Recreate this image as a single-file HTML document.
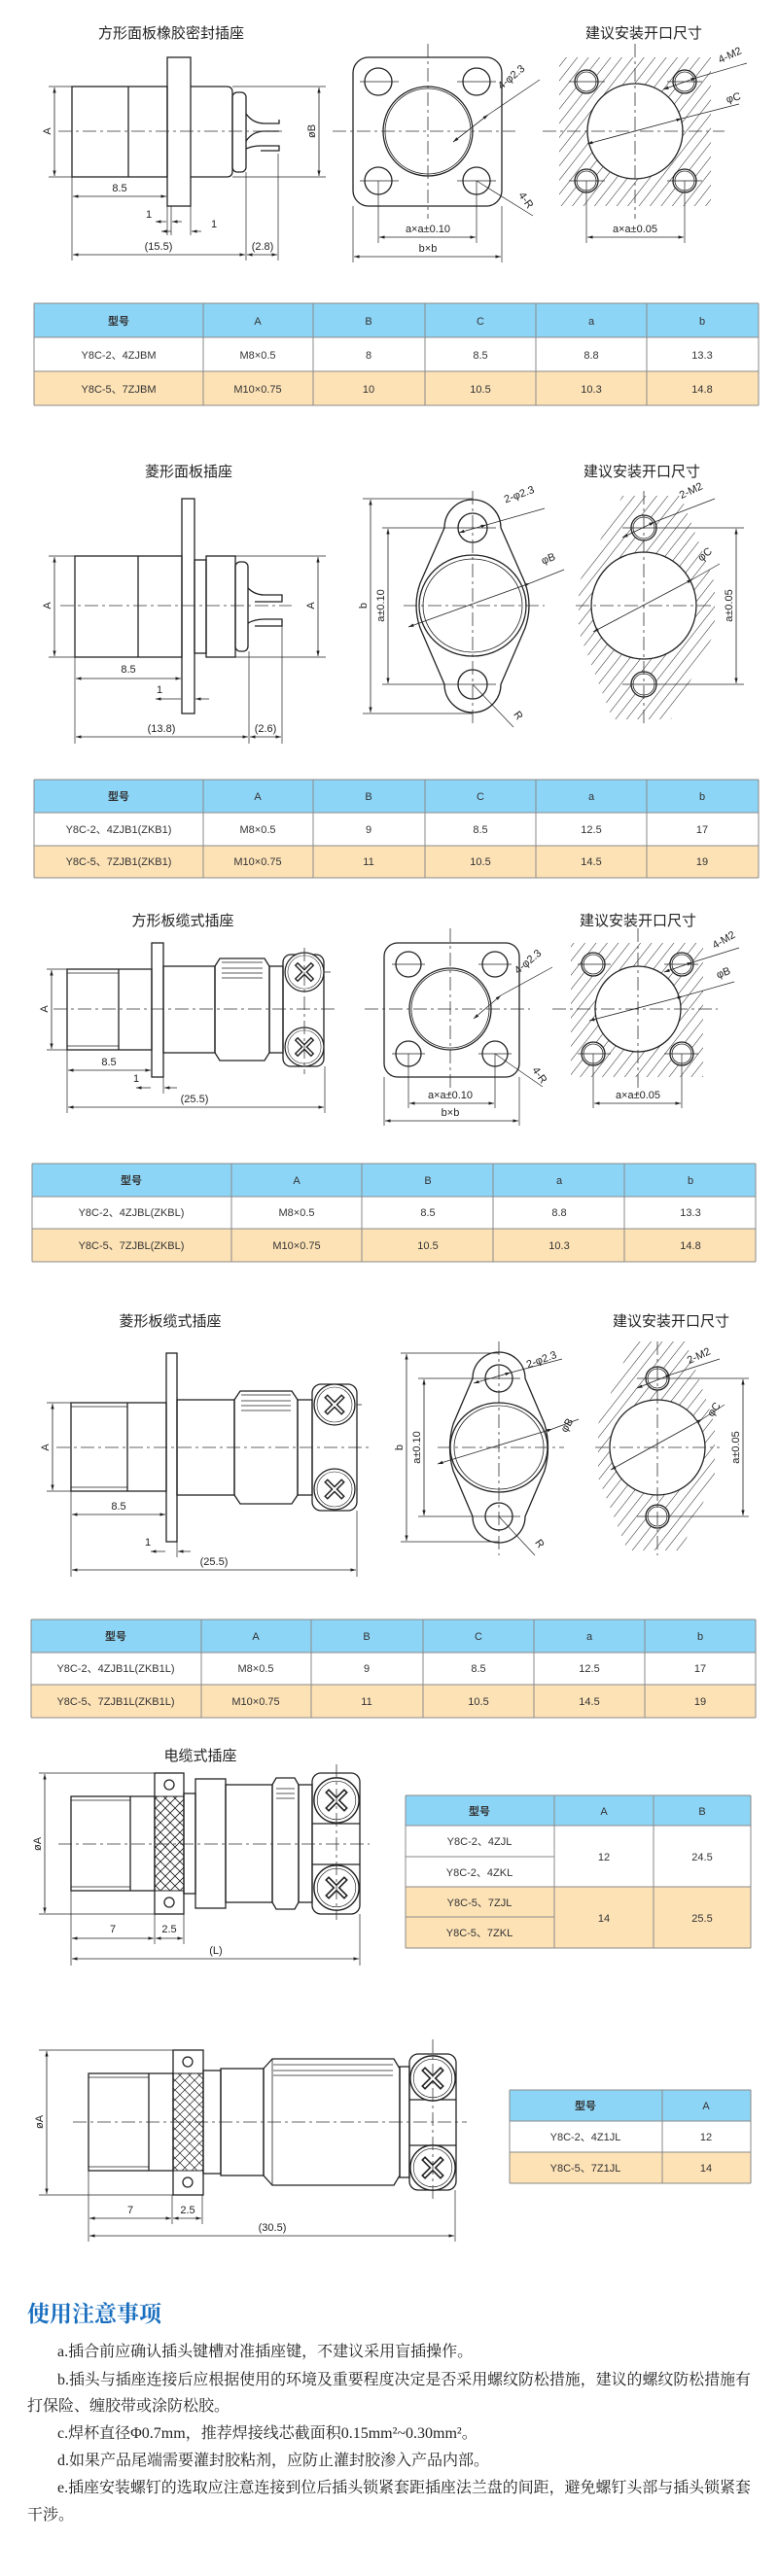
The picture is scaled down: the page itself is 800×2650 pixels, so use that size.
<!DOCTYPE html>
<html><head><meta charset="utf-8">
<style>
html,body{margin:0;padding:0;background:#fff;}
svg{display:block;}
.t{font-family:"Liberation Sans","Noto Sans CJK SC",sans-serif;font-size:15px;fill:#222;text-anchor:middle;}
.d{font-family:"Liberation Sans Narrow","Liberation Sans",sans-serif;font-size:11px;fill:#222;text-anchor:middle;}
.tb{font-family:"Liberation Sans Narrow","Liberation Sans","Noto Sans CJK SC",sans-serif;font-size:11px;fill:#333;text-anchor:middle;}
.n{font-family:"Liberation Serif","Noto Serif CJK SC",serif;font-size:16px;fill:#222;}
.s{fill:none;stroke:#222;stroke-width:1.3;}
.th{fill:none;stroke:#222;stroke-width:0.8;}
.c{fill:none;stroke:#333;stroke-width:0.8;stroke-dasharray:14 4 3 4;}
.dm{fill:none;stroke:#222;stroke-width:0.8;marker-start:url(#ar);marker-end:url(#ar);}
.e{fill:none;stroke:#222;stroke-width:0.7;}
.hd{fill:#8dd5f7;} .pe{fill:#fde2b6;} .wh{fill:#fff;}
.gl{stroke:#8a8a8a;stroke-width:1;fill:none;}
</style></head><body>
<svg width="800" height="2650" viewBox="0 0 800 2650" xmlns="http://www.w3.org/2000/svg">
<defs>
<marker id="ar" viewBox="0 0 10 10" refX="10" refY="5" markerWidth="7" markerHeight="7" orient="auto-start-reverse"><path d="M0,2 L10,5 L0,8 Z" fill="#222"/></marker>
<pattern id="h" patternUnits="userSpaceOnUse" width="9" height="9" patternTransform="rotate(38)"><line x1="0" y1="0" x2="0" y2="9" stroke="#222" stroke-width="1"/></pattern>
<g id="scr"><circle r="21" fill="#fff" stroke="#222" stroke-width="1.3"/><circle r="18" fill="none" stroke="#222" stroke-width="0.6"/><path d="M-9,-9 L9,9 M-9,9 L9,-9" stroke="#222" stroke-width="5"/><path d="M-8,-8 L8,8 M-8,8 L8,-8" stroke="#fff" stroke-width="2"/></g>
</defs>

<!-- ============ SECTION 1 ============ -->
<text class="t" x="176" y="39">方形面板橡胶密封插座</text>
<text class="t" x="662" y="39">建议安装开口尺寸</text>
<rect class="s" x="74" y="89" width="98" height="93"/>
<line class="s" x1="132" y1="89" x2="132" y2="182"/>
<rect class="s" x="172" y="59" width="24" height="153"/>
<path class="s" d="M196,89 H233 Q239,89 239,95 V176 Q239,182 233,182 H196"/>
<rect class="s" x="239" y="95" width="14" height="82" rx="5"/>
<path class="s" d="M253,117 Q260,127 272,127 H287 V123 M253,145 Q260,135 272,135 H287 M253,153 Q260,150 268,150 H287 V155 H268"/>
<line class="c" x1="60" y1="135" x2="290" y2="135"/>
<path class="e" d="M50,89 H74 M50,182 H74 M239,89 H335 M239,182 H335"/>
<line class="dm" x1="56" y1="90" x2="56" y2="181"/><text class="d" transform="translate(52,135) rotate(-90)">A</text>
<line class="dm" x1="328" y1="90" x2="328" y2="181"/><text class="d" transform="translate(324,135) rotate(-90)">øB</text>
<path class="e" d="M74,182 V268 M172,212 V242 M176,212 V242 M196,212 V242 M253,177 V268 M286,158 V268"/>
<line class="dm" x1="75" y1="202" x2="171" y2="202"/><text class="d" x="123" y="197">8.5</text>
<path class="dm" d="M160,228 H171 M187,228 H177"/><text class="d" x="153" y="224">1</text>
<path class="dm" d="M166,238 H176 M207,238 H197"/><text class="d" x="220" y="234">1</text>
<line class="dm" x1="75" y1="262" x2="252" y2="262"/><text class="d" x="163" y="257">(15.5)</text>
<line class="dm" x1="254" y1="262" x2="285" y2="262"/><text class="d" x="270" y="257">(2.8)</text>
<!-- square plate -->
<rect class="s" x="363" y="59" width="153" height="153" rx="16"/>
<g class="s"><circle cx="389" cy="84" r="14"/><circle cx="490" cy="84" r="14"/><circle cx="389" cy="186" r="14"/><circle cx="490" cy="186" r="14"/><circle cx="440" cy="135" r="46"/></g>
<circle class="th" cx="440" cy="135" r="44"/>
<path class="e" d="M370,84 H410 M470,84 H510 M370,186 H410 M470,186 H510 M389,186 V250 M490,186 V250 M363,212 V270 M516,212 V270"/>
<line class="c" x1="440" y1="45" x2="440" y2="225"/><line class="c" x1="342" y1="135" x2="530" y2="135"/>
<path class="dm" d="M466,146 L502,118"/><path class="e" d="M502,118 L555,82"/><text class="d" transform="translate(528,82) rotate(-40)">4-φ2.3</text>
<path class="e" d="M490,186 L548,222"/><text class="d" transform="translate(538,208) rotate(55)">4-R</text>
<line class="dm" x1="390" y1="244" x2="489" y2="244"/><text class="d" x="440" y="239">a×a±0.10</text>
<line class="dm" x1="364" y1="264" x2="515" y2="264"/><text class="d" x="440" y="259">b×b</text>
<!-- hatched -->
<rect x="575" y="59" width="156" height="153" fill="url(#h)"/>
<g fill="#fff" stroke="#222" stroke-width="1.3"><circle cx="653" cy="135" r="49"/><circle cx="603" cy="84" r="12"/><circle cx="704" cy="84" r="12"/><circle cx="603" cy="186" r="12"/><circle cx="704" cy="186" r="12"/></g>
<g class="th"><circle cx="603" cy="84" r="10"/><circle cx="704" cy="84" r="10"/><circle cx="603" cy="186" r="10"/><circle cx="704" cy="186" r="10"/></g>
<path class="e" d="M585,84 H622 M686,84 H722 M585,186 H622 M686,186 H722 M603,186 V250 M704,186 V250"/>
<line class="c" x1="653" y1="45" x2="653" y2="225"/><line class="c" x1="558" y1="135" x2="745" y2="135"/>
<path class="dm" d="M682,92 L716,80"/><path class="e" d="M716,80 L768,65"/><text class="d" transform="translate(752,60) rotate(-25)">4-M2</text>
<path class="dm" d="M604,148 L701,122"/><path class="e" d="M701,122 L760,107"/><text class="d" transform="translate(755,104) rotate(-15)">φC</text>
<line class="dm" x1="604" y1="244" x2="703" y2="244"/><text class="d" x="653" y="239">a×a±0.05</text>
<!-- table1 -->
<rect class="hd" x="35" y="312" width="745" height="35"/><rect class="wh" x="35" y="347" width="745" height="35"/><rect class="pe" x="35" y="382" width="745" height="35"/>
<path class="gl" d="M35,312 H780 M35,347 H780 M35,382 H780 M35,417 H780 M35,312 V417 M209,312 V417 M322,312 V417 M437,312 V417 M551,312 V417 M665,312 V417 M780,312 V417"/>
<g class="tb"><text x="122" y="334" font-weight="bold">型号</text><text x="265" y="334">A</text><text x="379" y="334">B</text><text x="494" y="334">C</text><text x="608" y="334">a</text><text x="722" y="334">b</text>
<text x="122" y="369">Y8C-2、4ZJBM</text><text x="265" y="369">M8×0.5</text><text x="379" y="369">8</text><text x="494" y="369">8.5</text><text x="608" y="369">8.8</text><text x="722" y="369">13.3</text>
<text x="122" y="404">Y8C-5、7ZJBM</text><text x="265" y="404">M10×0.75</text><text x="379" y="404">10</text><text x="494" y="404">10.5</text><text x="608" y="404">10.3</text><text x="722" y="404">14.8</text></g>

<!-- ============ SECTION 2 ============ -->
<text class="t" x="194" y="490">菱形面板插座</text>
<text class="t" x="660" y="490">建议安装开口尺寸</text>
<rect class="s" x="77" y="572" width="110" height="104"/><line class="s" x1="142" y1="572" x2="142" y2="676"/>
<rect class="s" x="187" y="513" width="13" height="221"/>
<rect class="s" x="200" y="576" width="12" height="96"/>
<rect class="s" x="212" y="572" width="30" height="104"/>
<rect class="s" x="242" y="578" width="13" height="92" rx="5"/>
<path class="s" d="M255,605 Q262,612 272,612 H290 V619 H262 M255,641 Q262,637 272,637 H290 V644 H262"/>
<line class="c" x1="62" y1="623" x2="300" y2="623"/>
<path class="e" d="M50,572 H77 M50,676 H77 M242,572 H335 M242,676 H335"/>
<line class="dm" x1="56" y1="573" x2="56" y2="675"/><text class="d" transform="translate(52,623) rotate(-90)">A</text>
<line class="dm" x1="327" y1="573" x2="327" y2="675"/><text class="d" transform="translate(323,623) rotate(-90)">A</text>
<path class="e" d="M77,676 V765 M187,734 V705 M200,734 V725 M256,670 V765 M290,644 V765"/>
<line class="dm" x1="78" y1="698" x2="186" y2="698"/><text class="d" x="132" y="692">8.5</text>
<path class="dm" d="M160,719 H186 M215,719 H201"/><text class="d" x="164" y="713">1</text>
<line class="dm" x1="78" y1="758" x2="255" y2="758"/><text class="d" x="166" y="753">(13.8)</text>
<line class="dm" x1="257" y1="758" x2="289" y2="758"/><text class="d" x="273" y="753">(2.6)</text>
<!-- diamond -->
<path class="s" d="M457,543 A29,29 0 0 1 515,543 L540,600 Q548,623 540,646 L515,704 A29,29 0 0 1 457,704 L432,646 Q424,623 432,600 Z"/>
<g class="s"><circle cx="486" cy="543" r="15"/><circle cx="486" cy="704" r="15"/><ellipse cx="486" cy="623" rx="55" ry="52"/></g>
<ellipse class="th" cx="486" cy="623" rx="51" ry="48"/>
<line class="c" x1="486" y1="505" x2="486" y2="745"/><line class="c" x1="415" y1="623" x2="560" y2="623"/>
<path class="e" d="M373,513 H486 M393,543 H510 M393,704 H510 M373,734 H486"/>
<line class="dm" x1="381" y1="514" x2="381" y2="733"/><text class="d" transform="translate(377,623) rotate(-90)">b</text>
<line class="dm" x1="399" y1="544" x2="399" y2="703"/><text class="d" transform="translate(395,623) rotate(-90)">a±0.10</text>
<path class="dm" d="M472,548 L500,540"/><path class="e" d="M500,540 L560,523"/><text class="d" transform="translate(535,512) rotate(-20)">2-φ2.3</text>
<path class="dm" d="M420,645 L545,600"/><path class="e" d="M545,600 L580,586"/><text class="d" transform="translate(565,578) rotate(-20)">φB</text>
<path class="e" d="M486,704 L528,748"/><text class="d" transform="translate(530,738) rotate(55)">R</text>
<!-- cutout 2 -->
<clipPath id="cp2"><path d="M640,510 L700,510 L735,600 L735,650 L690,740 L630,740 L595,650 L595,600 Z"/></clipPath>
<rect x="590" y="505" width="150" height="240" fill="url(#h)" clip-path="url(#cp2)"/>
<g fill="#fff" stroke="#222" stroke-width="1.3"><ellipse cx="662" cy="623" rx="54" ry="55"/><circle cx="662" cy="543" r="13"/><circle cx="662" cy="704" r="13"/></g>
<g class="th"><circle cx="662" cy="543" r="11"/><circle cx="662" cy="704" r="11"/></g>
<line class="c" x1="662" y1="505" x2="662" y2="745"/><line class="c" x1="592" y1="623" x2="735" y2="623"/>
<path class="e" d="M640,543 H765 M640,704 H765"/>
<line class="dm" x1="757" y1="544" x2="757" y2="703"/><text class="d" transform="translate(753,623) rotate(-90)">a±0.05</text>
<path class="dm" d="M640,553 L673,537"/><path class="e" d="M673,537 L735,513"/><text class="d" transform="translate(712,508) rotate(-25)">2-M2</text>
<path class="dm" d="M610,650 L712,596"/><path class="e" d="M712,596 L740,580"/><text class="d" transform="translate(727,573) rotate(-40)">φC</text>
<!-- table2 -->
<rect class="hd" x="35" y="802" width="745" height="34"/><rect class="wh" x="35" y="836" width="745" height="34"/><rect class="pe" x="35" y="870" width="745" height="33"/>
<path class="gl" d="M35,802 H780 M35,836 H780 M35,870 H780 M35,903 H780 M35,802 V903 M209,802 V903 M322,802 V903 M437,802 V903 M551,802 V903 M665,802 V903 M780,802 V903"/>
<g class="tb"><text x="122" y="823" font-weight="bold">型号</text><text x="265" y="823">A</text><text x="379" y="823">B</text><text x="494" y="823">C</text><text x="608" y="823">a</text><text x="722" y="823">b</text>
<text x="122" y="857">Y8C-2、4ZJB1(ZKB1)</text><text x="265" y="857">M8×0.5</text><text x="379" y="857">9</text><text x="494" y="857">8.5</text><text x="608" y="857">12.5</text><text x="722" y="857">17</text>
<text x="122" y="890">Y8C-5、7ZJB1(ZKB1)</text><text x="265" y="890">M10×0.75</text><text x="379" y="890">11</text><text x="494" y="890">10.5</text><text x="608" y="890">14.5</text><text x="722" y="890">19</text></g>

<!-- ============ SECTION 3 ============ -->
<text class="t" x="188" y="952">方形板缆式插座</text>
<text class="t" x="656" y="952">建议安装开口尺寸</text>
<rect class="s" x="69" y="997" width="87" height="83"/><line class="s" x1="122" y1="997" x2="122" y2="1080"/><line class="th" x1="69" y1="1001" x2="122" y2="1001"/><line class="th" x1="69" y1="1076" x2="122" y2="1076"/>
<rect class="s" x="156" y="970" width="12" height="138"/>
<rect class="s" x="168" y="994" width="53" height="89"/>
<path class="s" d="M221,994 L226,986 H272 L277,994 V1083 L272,1091 H226 L221,1083 Z"/>
<path class="th" d="M228,990 H270 M228,996 H270 M228,1001 H270 M228,1006 H270"/>
<rect class="s" x="277" y="994" width="14" height="89"/>
<rect class="s" x="291" y="982" width="42" height="115" rx="8"/>
<use href="#scr" transform="translate(313,1000) scale(0.95)"/><use href="#scr" transform="translate(313,1077) scale(0.95)"/>
<line class="c" x1="55" y1="1038" x2="345" y2="1038"/><line class="c" x1="313" y1="975" x2="313" y2="1105"/>
<path class="e" d="M48,997 H69 M48,1080 H69 M333,1000 H340 M69,1080 V1145 M156,1108 V1101 M168,1108 V1125 M334,1097 V1145"/>
<line class="dm" x1="53" y1="998" x2="53" y2="1079"/><text class="d" transform="translate(49,1038) rotate(-90)">A</text>
<line class="dm" x1="70" y1="1101" x2="155" y2="1101"/><text class="d" x="112" y="1096">8.5</text>
<path class="dm" d="M140,1119 H155 M182,1119 H169"/><text class="d" x="140" y="1113">1</text>
<line class="dm" x1="70" y1="1139" x2="333" y2="1139"/><text class="d" x="200" y="1134">(25.5)</text>
<!-- square 3 -->
<rect class="s" x="395" y="970" width="139" height="138" rx="14"/>
<g class="s"><circle cx="420" cy="992" r="13"/><circle cx="509" cy="992" r="13"/><circle cx="420" cy="1084" r="13"/><circle cx="509" cy="1084" r="13"/><circle cx="463" cy="1038" r="42"/></g>
<circle class="th" cx="463" cy="1038" r="40"/>
<path class="e" d="M403,992 H437 M492,992 H526 M403,1084 H437 M492,1084 H526 M420,1084 V1140 M509,1084 V1140 M395,1108 V1158 M534,1108 V1158"/>
<line class="c" x1="463" y1="955" x2="463" y2="1125"/><line class="c" x1="375" y1="1038" x2="545" y2="1038"/>
<path class="dm" d="M487,1048 L515,1024"/><path class="e" d="M515,1024 L568,995"/><text class="d" transform="translate(545,992) rotate(-40)">4-φ2.3</text>
<path class="e" d="M509,1084 L558,1118"/><text class="d" transform="translate(552,1108) rotate(55)">4-R</text>
<line class="dm" x1="421" y1="1135" x2="508" y2="1135"/><text class="d" x="463" y="1130">a×a±0.10</text>
<line class="dm" x1="396" y1="1153" x2="533" y2="1153"/><text class="d" x="463" y="1148">b×b</text>
<rect x="587" y="970" width="136" height="138" fill="url(#h)"/>
<g fill="#fff" stroke="#222" stroke-width="1.3"><ellipse cx="656" cy="1038" rx="44" ry="44"/><circle cx="610" cy="992" r="12"/><circle cx="701" cy="992" r="12"/><circle cx="610" cy="1084" r="12"/><circle cx="701" cy="1084" r="12"/></g>
<g class="th"><circle cx="610" cy="992" r="10"/><circle cx="701" cy="992" r="10"/><circle cx="610" cy="1084" r="10"/><circle cx="701" cy="1084" r="10"/></g>
<path class="e" d="M594,992 H628 M683,992 H718 M594,1084 H628 M683,1084 H718 M610,1084 V1140 M701,1084 V1140"/>
<line class="c" x1="656" y1="955" x2="656" y2="1125"/><line class="c" x1="568" y1="1038" x2="738" y2="1038"/>
<path class="dm" d="M683,1000 L712,990"/><path class="e" d="M712,990 L760,975"/><text class="d" transform="translate(746,970) rotate(-30)">4-M2</text>
<path class="dm" d="M606,1050 L702,1025"/><path class="e" d="M702,1025 L755,1010"/><text class="d" transform="translate(745,1004) rotate(-20)">φB</text>
<line class="dm" x1="611" y1="1135" x2="700" y2="1135"/><text class="d" x="656" y="1130">a×a±0.05</text>
<!-- table3 -->
<rect class="hd" x="33" y="1197" width="744" height="34"/><rect class="wh" x="33" y="1231" width="744" height="33"/><rect class="pe" x="33" y="1264" width="744" height="34"/>
<path class="gl" d="M33,1197 H777 M33,1231 H777 M33,1264 H777 M33,1298 H777 M33,1197 V1298 M238,1197 V1298 M372,1197 V1298 M507,1197 V1298 M642,1197 V1298 M777,1197 V1298"/>
<g class="tb"><text x="135" y="1218" font-weight="bold">型号</text><text x="305" y="1218">A</text><text x="440" y="1218">B</text><text x="575" y="1218">a</text><text x="710" y="1218">b</text>
<text x="135" y="1251">Y8C-2、4ZJBL(ZKBL)</text><text x="305" y="1251">M8×0.5</text><text x="440" y="1251">8.5</text><text x="575" y="1251">8.8</text><text x="710" y="1251">13.3</text>
<text x="135" y="1285">Y8C-5、7ZJBL(ZKBL)</text><text x="305" y="1285">M10×0.75</text><text x="440" y="1285">10.5</text><text x="575" y="1285">10.3</text><text x="710" y="1285">14.8</text></g>

<!-- ============ SECTION 4 ============ -->
<text class="t" x="175" y="1364">菱形板缆式插座</text>
<text class="t" x="690" y="1364">建议安装开口尺寸</text>
<rect class="s" x="73" y="1443" width="98" height="91"/><line class="s" x1="131" y1="1443" x2="131" y2="1534"/><line class="th" x1="73" y1="1447" x2="131" y2="1447"/><line class="th" x1="73" y1="1530" x2="131" y2="1530"/>
<rect class="s" x="171" y="1392" width="11" height="194"/>
<rect class="s" x="182" y="1440" width="59" height="98"/>
<path class="s" d="M241,1440 L247,1431 H300 L306,1440 V1538 L300,1547 H247 L241,1538 Z"/>
<path class="th" d="M248,1435 H299 M248,1441 H299 M248,1446 H299 M248,1451 H299"/>
<rect class="s" x="306" y="1440" width="15" height="98"/>
<rect class="s" x="321" y="1424" width="46" height="130" rx="9"/>
<use href="#scr" transform="translate(344,1445)"/><use href="#scr" transform="translate(344,1532)"/>
<line class="c" x1="58" y1="1489" x2="380" y2="1489"/>
<path class="e" d="M48,1443 H73 M48,1534 H73 M367,1445 H372 M73,1534 V1622 M171,1586 V1558 M182,1586 V1602 M367,1554 V1622"/>
<line class="dm" x1="54" y1="1444" x2="54" y2="1533"/><text class="d" transform="translate(50,1489) rotate(-90)">A</text>
<line class="dm" x1="74" y1="1558" x2="170" y2="1558"/><text class="d" x="122" y="1553">8.5</text>
<path class="dm" d="M155,1596 H170 M196,1596 H183"/><text class="d" x="152" y="1590">1</text>
<line class="dm" x1="74" y1="1615" x2="366" y2="1615"/><text class="d" x="220" y="1610">(25.5)</text>
<!-- diamond 4 -->
<path class="s" d="M486,1418 A27,27 0 0 1 540,1418 L560,1465 Q567,1489 560,1513 L540,1560 A27,27 0 0 1 486,1560 L466,1513 Q459,1489 466,1465 Z"/>
<g class="s"><circle cx="513" cy="1418" r="14"/><circle cx="513" cy="1560" r="14"/><ellipse cx="513" cy="1489" rx="50" ry="46"/></g>
<ellipse class="th" cx="513" cy="1489" rx="46" ry="43"/>
<line class="c" x1="513" y1="1380" x2="513" y2="1600"/><line class="c" x1="450" y1="1489" x2="580" y2="1489"/>
<path class="e" d="M412,1392 H513 M430,1418 H535 M430,1560 H535 M412,1586 H513"/>
<line class="dm" x1="418" y1="1393" x2="418" y2="1585"/><text class="d" transform="translate(414,1489) rotate(-90)">b</text>
<line class="dm" x1="436" y1="1419" x2="436" y2="1559"/><text class="d" transform="translate(432,1489) rotate(-90)">a±0.10</text>
<path class="dm" d="M487,1423 L525,1412"/><path class="e" d="M525,1412 L578,1398"/><text class="d" transform="translate(558,1402) rotate(-20)">2-φ2.3</text>
<path class="dm" d="M450,1506 L568,1470"/><path class="e" d="M568,1470 L595,1460"/><text class="d" transform="translate(586,1468) rotate(-60)">φB</text>
<path class="e" d="M513,1560 L550,1600"/><text class="d" transform="translate(552,1590) rotate(55)">R</text>
<clipPath id="cp4"><path d="M650,1380 L705,1380 L735,1465 L735,1520 L700,1595 L645,1595 L615,1520 L615,1465 Z"/></clipPath>
<rect x="610" y="1380" width="130" height="220" fill="url(#h)" clip-path="url(#cp4)"/>
<g fill="#fff" stroke="#222" stroke-width="1.3"><circle cx="676" cy="1489" r="49"/><circle cx="676" cy="1418" r="12"/><circle cx="676" cy="1560" r="12"/></g>
<g class="th"><circle cx="676" cy="1418" r="10"/><circle cx="676" cy="1560" r="10"/></g>
<line class="c" x1="676" y1="1380" x2="676" y2="1600"/><line class="c" x1="612" y1="1489" x2="740" y2="1489"/>
<path class="e" d="M655,1418 H770 M655,1560 H770"/>
<line class="dm" x1="764" y1="1419" x2="764" y2="1559"/><text class="d" transform="translate(760,1489) rotate(-90)">a±0.05</text>
<path class="dm" d="M655,1428 L690,1414"/><path class="e" d="M690,1414 L740,1398"/><text class="d" transform="translate(720,1398) rotate(-25)">2-M2</text>
<path class="dm" d="M628,1512 L722,1460"/><path class="e" d="M722,1460 L745,1445"/><text class="d" transform="translate(737,1452) rotate(-55)">φC</text>
<!-- table4 -->
<rect class="hd" x="32" y="1666" width="745" height="34"/><rect class="wh" x="32" y="1700" width="745" height="33"/><rect class="pe" x="32" y="1733" width="745" height="34"/>
<path class="gl" d="M32,1666 H777 M32,1700 H777 M32,1733 H777 M32,1767 H777 M32,1666 V1767 M207,1666 V1767 M320,1666 V1767 M435,1666 V1767 M549,1666 V1767 M663,1666 V1767 M777,1666 V1767"/>
<g class="tb"><text x="119" y="1687" font-weight="bold">型号</text><text x="263" y="1687">A</text><text x="377" y="1687">B</text><text x="492" y="1687">C</text><text x="606" y="1687">a</text><text x="720" y="1687">b</text>
<text x="119" y="1720">Y8C-2、4ZJB1L(ZKB1L)</text><text x="263" y="1720">M8×0.5</text><text x="377" y="1720">9</text><text x="492" y="1720">8.5</text><text x="606" y="1720">12.5</text><text x="720" y="1720">17</text>
<text x="119" y="1754">Y8C-5、7ZJB1L(ZKB1L)</text><text x="263" y="1754">M10×0.75</text><text x="377" y="1754">11</text><text x="492" y="1754">10.5</text><text x="606" y="1754">14.5</text><text x="720" y="1754">19</text></g>

<!-- ============ SECTION 5 ============ -->
<text class="t" x="206" y="1811">电缆式插座</text>
<rect class="s" x="73" y="1848" width="86" height="97"/><line class="s" x1="134" y1="1848" x2="134" y2="1945"/><line class="th" x1="73" y1="1852" x2="134" y2="1852"/><line class="th" x1="73" y1="1941" x2="134" y2="1941"/>
<rect class="s" x="159" y="1824" width="30" height="145"/>
<rect x="159" y="1848" width="30" height="97" fill="url(#x1)"/>
<defs><pattern id="x1" patternUnits="userSpaceOnUse" width="10" height="10"><path d="M0,0 L10,10 M10,0 L0,10" stroke="#222" stroke-width="0.7"/></pattern></defs>
<rect x="159" y="1848" width="30" height="97" fill="url(#x1)" stroke="#222" stroke-width="1"/>
<circle class="s" cx="174" cy="1836" r="5"/><circle class="s" cx="174" cy="1957" r="5"/>
<rect class="s" x="189" y="1845" width="12" height="103"/>
<rect class="s" x="201" y="1830" width="31" height="133"/>
<rect class="s" x="232" y="1836" width="48" height="121"/>
<path class="s" d="M280,1836 L284,1829 H303 L307,1836 V1957 L303,1964 H284 L280,1957 Z"/>
<path class="th" d="M284,1840 H303 M284,1845 H303 M284,1850 H303"/>
<rect class="s" x="307" y="1836" width="14" height="121"/>
<rect class="s" x="321" y="1824" width="49" height="145" rx="9"/>
<path class="s" d="M321,1876 H370 M321,1918 H370"/>
<use href="#scr" transform="translate(346,1852) scale(1.1)"/><use href="#scr" transform="translate(346,1942) scale(1.1)"/>
<line class="c" x1="60" y1="1897" x2="380" y2="1897"/><line class="c" x1="346" y1="1815" x2="346" y2="1975"/>
<path class="e" d="M40,1824 H159 M40,1969 H159 M73,1945 V2022 M159,1969 V2000 M189,1969 V2000 M370,1969 V2022"/>
<line class="dm" x1="46" y1="1825" x2="46" y2="1968"/><text class="d" transform="translate(42,1897) rotate(-90)">øA</text>
<line class="dm" x1="74" y1="1994" x2="158" y2="1994"/><text class="d" x="116" y="1988">7</text>
<line class="dm" x1="160" y1="1994" x2="188" y2="1994"/><text class="d" x="174" y="1988">2.5</text>
<line class="dm" x1="74" y1="2015" x2="369" y2="2015"/><text class="d" x="222" y="2010">(L)</text>
<!-- table5 -->
<rect class="hd" x="417" y="1847" width="355" height="31"/><rect class="wh" x="417" y="1878" width="355" height="63"/><rect class="pe" x="417" y="1941" width="355" height="63"/>
<path class="gl" d="M417,1847 H772 M417,1878 H772 M417,1910 H570 M417,1941 H772 M417,1972 H570 M417,2004 H772 M417,1847 V2004 M570,1847 V2004 M672,1847 V2004 M772,1847 V2004"/>
<g class="tb"><text x="493" y="1867" font-weight="bold">型号</text><text x="621" y="1867">A</text><text x="722" y="1867">B</text>
<text x="493" y="1898">Y8C-2、4ZJL</text><text x="493" y="1930">Y8C-2、4ZKL</text><text x="621" y="1914">12</text><text x="722" y="1914">24.5</text>
<text x="493" y="1961">Y8C-5、7ZJL</text><text x="493" y="1992">Y8C-5、7ZKL</text><text x="621" y="1977">14</text><text x="722" y="1977">25.5</text></g>

<!-- ============ SECTION 6 ============ -->
<rect class="s" x="91" y="2133" width="87" height="100"/><line class="s" x1="153" y1="2133" x2="153" y2="2233"/><line class="th" x1="91" y1="2137" x2="153" y2="2137"/><line class="th" x1="91" y1="2229" x2="153" y2="2229"/>
<rect class="s" x="178" y="2109" width="31" height="149"/>
<rect x="178" y="2133" width="31" height="100" fill="url(#x1)" stroke="#222" stroke-width="1"/>
<circle class="s" cx="193" cy="2121" r="5"/><circle class="s" cx="193" cy="2245" r="5"/>
<rect class="s" x="209" y="2130" width="18" height="106"/>
<rect class="s" x="227" y="2128" width="44" height="110"/>
<path class="s" d="M271,2128 L280,2118 H405 L411,2128 V2238 L405,2248 H280 L271,2238 Z"/>
<path class="th" d="M280,2118 V2248 M281,2124 H404 M281,2130 H404 M281,2135 H404"/>
<rect class="s" x="411" y="2126" width="10" height="114"/>
<rect class="s" x="421" y="2113" width="48" height="140" rx="9"/>
<path class="s" d="M421,2160 H469 M421,2207 H469"/>
<use href="#scr" transform="translate(445,2138) scale(1.1)"/><use href="#scr" transform="translate(445,2230) scale(1.1)"/>
<line class="c" x1="75" y1="2183" x2="480" y2="2183"/><line class="c" x1="445" y1="2098" x2="445" y2="2265"/>
<path class="e" d="M40,2109 H178 M40,2258 H178 M91,2233 V2306 M177,2258 V2288 M208,2258 V2288 M468,2253 V2306"/>
<line class="dm" x1="48" y1="2110" x2="48" y2="2257"/><text class="d" transform="translate(44,2183) rotate(-90)">øA</text>
<line class="dm" x1="92" y1="2282" x2="176" y2="2282"/><text class="d" x="134" y="2277">7</text>
<line class="dm" x1="178" y1="2282" x2="207" y2="2282"/><text class="d" x="193" y="2277">2.5</text>
<line class="dm" x1="92" y1="2300" x2="467" y2="2300"/><text class="d" x="280" y="2295">(30.5)</text>
<!-- table6 -->
<rect class="hd" x="524" y="2150" width="248" height="32"/><rect class="wh" x="524" y="2182" width="248" height="32"/><rect class="pe" x="524" y="2214" width="248" height="32"/>
<path class="gl" d="M524,2150 H772 M524,2182 H772 M524,2214 H772 M524,2246 H772 M524,2150 V2246 M681,2150 V2246 M772,2150 V2246"/>
<g class="tb"><text x="602" y="2170" font-weight="bold">型号</text><text x="726" y="2170">A</text>
<text x="602" y="2202">Y8C-2、4Z1JL</text><text x="726" y="2202">12</text>
<text x="602" y="2234">Y8C-5、7Z1JL</text><text x="726" y="2234">14</text></g>

<!-- ============ NOTES ============ -->
<text x="28" y="2388" font-family="Liberation Serif,'Noto Serif CJK SC',serif" font-size="23" font-weight="bold" fill="#1a6fbf">使用注意事项</text>
<g class="n">
<text x="59" y="2424">a.插合前应确认插头键槽对准插座键，不建议采用盲插操作。</text>
<text x="59" y="2453" textLength="713" lengthAdjust="spacingAndGlyphs">b.插头与插座连接后应根据使用的环境及重要程度决定是否采用螺纹防松措施，建议的螺纹防松措施有</text>
<text x="28" y="2480">打保险、缠胶带或涂防松胶。</text>
<text x="59" y="2508">c.焊杯直径Φ0.7mm，推荐焊接线芯截面积0.15mm²~0.30mm²。</text>
<text x="59" y="2536">d.如果产品尾端需要灌封胶粘剂，应防止灌封胶渗入产品内部。</text>
<text x="59" y="2564" textLength="713" lengthAdjust="spacingAndGlyphs">e.插座安装螺钉的选取应注意连接到位后插头锁紧套距插座法兰盘的间距，避免螺钉头部与插头锁紧套</text>
<text x="28" y="2592">干涉。</text>
</g>
</svg>
</body></html>
